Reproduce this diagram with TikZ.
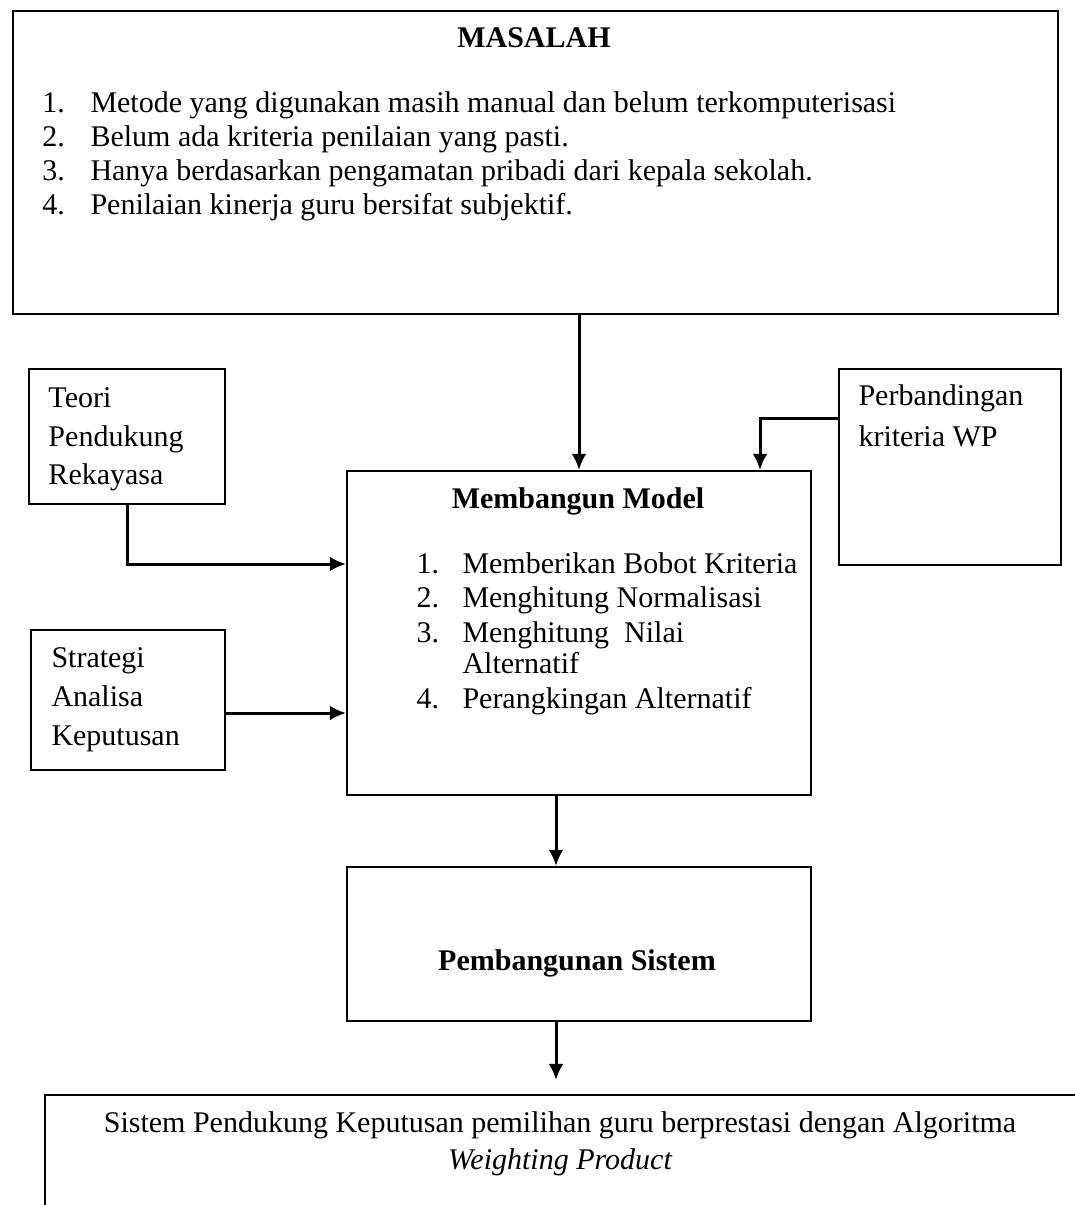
\documentclass[tikz,border=0pt]{standalone}
\usepackage{fontspec}
\setmainfont{Liberation Serif}
\usetikzlibrary{arrows.meta}
\begin{document}
\begin{tikzpicture}
    [x=0.4pt,y=-0.4pt,
     box/.style n args={2}{draw,line width=0.8pt,rectangle,inner sep=0pt,anchor=north west,
       minimum width=#1*0.4pt,minimum height=#2*0.4pt},
     txt/.style={inner sep=0pt,anchor=base west,font=\fontsize{12}{14}\selectfont},
     head/.style={inner sep=0pt,anchor=base,font=\fontsize{12}{14}\selectfont\bfseries},
     flow/.style={line width=1.2pt,-{Latex[length=6.5pt,width=6pt]}}]

    \useasboundingbox (0,0) rectangle (1074,1205);

    % boxes
    \node[box={1045}{303}] (masalah) at (12,10) {};
    \node[box={196}{135}] (teori) at (28,368) {};
    \node[box={194}{140}] (strategi) at (30,629) {};
    \node[box={222}{196}] (wp) at (838,368) {};
    \node[box={464}{324}] (model) at (346,470) {};
    \node[box={464}{154}] (sys) at (346,866) {};
    \node[box={1100}{200}] (hasil) at (44,1094) {};

    % texts
    \node[head] (masalah-title) at (534,48) {MASALAH};
    \foreach \n/\y/\text in {1/113/Metode yang digunakan masih manual dan belum terkomputerisasi,
                              2/147/Belum ada kriteria penilaian yang pasti.,
                              3/181/Hanya berdasarkan pengamatan pribadi dari kepala sekolah.,
                              4/215/Penilaian kinerja guru bersifat subjektif.}
      { \node[txt] (m-num-\n) at (42,\y) {\n.};
        \node[txt] (m-item-\n) at (90,\y) {\text}; }

    \foreach \n/\y/\text in {1/407/Teori, 2/446/Pendukung, 3/484/Rekayasa}
      \node[txt] (teori-\n) at (48,\y) {\text};
    \foreach \n/\y/\text in {1/667/Strategi, 2/706/Analisa, 3/745/Keputusan}
      \node[txt] (strategi-\n) at (51,\y) {\text};
    \foreach \n/\y/\text in {1/405/Perbandingan, 2/446/kriteria WP}
      \node[txt] (wp-\n) at (858,\y) {\text};

    \node[head] (model-title) at (578,508) {Membangun Model};
    \foreach \n/\y/\text in {1/573/Memberikan Bobot Kriteria, 2/607/Menghitung Normalisasi,
                              3/642/Menghitung\ \ Nilai, 4/708/Perangkingan Alternatif}
      { \node[txt] (b-num-\n) at (416,\y) {\n.};
        \node[txt] (b-item-\n) at (462,\y) {\text}; }
    \node[txt] (b-item-3b) at (462,673) {Alternatif};

    \node[head] (sys-title) at (577,970) {Pembangunan Sistem};

    \node[inner sep=0pt,anchor=base,font=\fontsize{12}{14}\selectfont] (hasil-1) at (560,1132)
      {Sistem Pendukung Keputusan pemilihan guru berprestasi dengan Algoritma};
    \node[inner sep=0pt,anchor=base,font=\fontsize{12}{14}\selectfont\itshape] (hasil-2) at (560,1169)
      {Weighting Product};

    % connectors
    \coordinate (in-teori) at (346,564);
    \coordinate (in-strategi) at (346,713);
    \coordinate (out-wp) at (838,418);
    \coordinate (in-wp) at (760,470);
    \coordinate (down) at (556,0);
    \coordinate (tip) at (556,1080);

    \draw[flow] (teori.south) |- (in-teori);
    \draw[flow] (strategi.east |- in-strategi) -- (in-strategi);
    \draw[flow] (masalah.south -| model.north) -- (model.north);
    \draw[flow] (out-wp) -| (in-wp);
    \draw[flow] (model.south -| down) -- (sys.north -| down);
    \draw[flow] (sys.south -| down) -- (tip);
  \end{tikzpicture}
\end{document}
